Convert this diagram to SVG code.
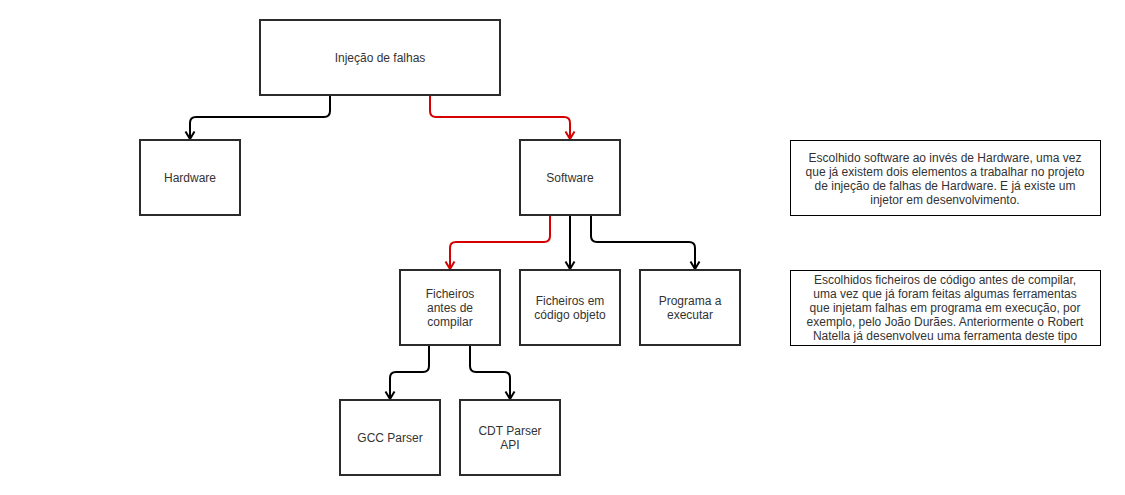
<svg xmlns="http://www.w3.org/2000/svg" width="1125" height="495" viewBox="0 0 1125 495">
  <defs>
    <style>
      .box { fill: #ffffff; stroke: #2b2b2b; stroke-width: 2; }
      .note { fill: #ffffff; stroke: #000000; stroke-width: 1; }
      .lbl { font-family: "Liberation Sans", Arial, sans-serif; font-size: 12px; fill: #333333; text-anchor: middle; }
      .edge { fill: none; stroke-width: 2; stroke-linejoin: round; }
      .black { stroke: #000000; }
      .red { stroke: #d60000; }
    </style>
    <!-- open chevron arrowheads, drawn along +x so orient="auto" points them along the path -->
    <marker id="arrowBlack" viewBox="0 0 12 12" refX="11" refY="6" markerWidth="12" markerHeight="12" markerUnits="userSpaceOnUse" orient="auto">
      <path d="M3.5 1.5 L11 6 L3.5 10.5" fill="none" stroke="#000000" stroke-width="2"/>
    </marker>
    <marker id="arrowRed" viewBox="0 0 12 12" refX="11" refY="6" markerWidth="12" markerHeight="12" markerUnits="userSpaceOnUse" orient="auto">
      <path d="M3.5 1.5 L11 6 L3.5 10.5" fill="none" stroke="#d60000" stroke-width="2"/>
    </marker>
  </defs>
  <rect width="1125" height="495" fill="#ffffff"/>

  <!-- connectors -->
  <g id="connectors">
    <path class="edge black" d="M330 95 V111 Q330 117 324 117 H196 Q190 117 190 123 V139" marker-end="url(#arrowBlack)"/>
    <path class="edge red" d="M430 95 V111 Q430 117 436 117 H564 Q570 117 570 123 V139" marker-end="url(#arrowRed)"/>
    <path class="edge red" d="M550 215 V236 Q550 242 544 242 H456 Q450 242 450 248 V269" marker-end="url(#arrowRed)"/>
    <path class="edge black" d="M570 215 V269" marker-end="url(#arrowBlack)"/>
    <path class="edge black" d="M591 215 V236 Q591 242 597 242 H689 Q695 242 695 248 V269" marker-end="url(#arrowBlack)"/>
    <path class="edge black" d="M429 345 V366 Q429 372 423 372 H396 Q390 372 390 378 V399" marker-end="url(#arrowBlack)"/>
    <path class="edge black" d="M470 345 V366 Q470 372 476 372 H504 Q510 372 510 378 V399" marker-end="url(#arrowBlack)"/>
  </g>

  <!-- nodes -->
  <g id="injecao">
    <rect class="box" x="260" y="20" width="240" height="75"/>
    <text class="lbl" x="380" y="62">Injeção de falhas</text>
  </g>
  <g id="hardware">
    <rect class="box" x="140" y="140" width="100" height="75"/>
    <text class="lbl" x="190" y="182">Hardware</text>
  </g>
  <g id="software">
    <rect class="box" x="520" y="140" width="100" height="75"/>
    <text class="lbl" x="570" y="182">Software</text>
  </g>
  <g id="ficheiros-antes">
    <rect class="box" x="400" y="270" width="100" height="75"/>
    <text class="lbl" x="450" y="298">Ficheiros</text>
    <text class="lbl" x="450" y="312">antes de</text>
    <text class="lbl" x="450" y="326">compilar</text>
  </g>
  <g id="ficheiros-objeto">
    <rect class="box" x="520" y="270" width="100" height="75"/>
    <text class="lbl" x="570" y="305">Ficheiros em</text>
    <text class="lbl" x="570" y="319">código objeto</text>
  </g>
  <g id="programa">
    <rect class="box" x="640" y="270" width="100" height="75"/>
    <text class="lbl" x="690" y="305">Programa a</text>
    <text class="lbl" x="690" y="319">executar</text>
  </g>
  <g id="gcc-parser">
    <rect class="box" x="340" y="400" width="100" height="75"/>
    <text class="lbl" x="390" y="442">GCC Parser</text>
  </g>
  <g id="cdt-parser">
    <rect class="box" x="460" y="400" width="100" height="75"/>
    <text class="lbl" x="510" y="435">CDT Parser</text>
    <text class="lbl" x="510" y="449">API</text>
  </g>
  <g id="nota-software">
    <rect class="note" x="790.5" y="140.5" width="310" height="75"/>
    <text class="lbl" x="945" y="162">Escolhido software ao invés de Hardware, uma vez</text>
    <text class="lbl" x="945" y="176">que já existem dois elementos a trabalhar no projeto</text>
    <text class="lbl" x="945" y="190">de injeção de falhas de Hardware. E já existe um</text>
    <text class="lbl" x="945" y="204">injetor em desenvolvimento.</text>
  </g>
  <g id="nota-ficheiros">
    <rect class="note" x="790.5" y="270.5" width="310" height="75"/>
    <text class="lbl" x="945" y="284">Escolhidos ficheiros de código antes de compilar,</text>
    <text class="lbl" x="945" y="298">uma vez que já foram feitas algumas ferramentas</text>
    <text class="lbl" x="945" y="312">que injetam falhas em programa em execução, por</text>
    <text class="lbl" x="945" y="326">exemplo, pelo João Durães. Anteriormente o Robert</text>
    <text class="lbl" x="945" y="340">Natella já desenvolveu uma ferramenta deste tipo</text>
  </g>
</svg>
